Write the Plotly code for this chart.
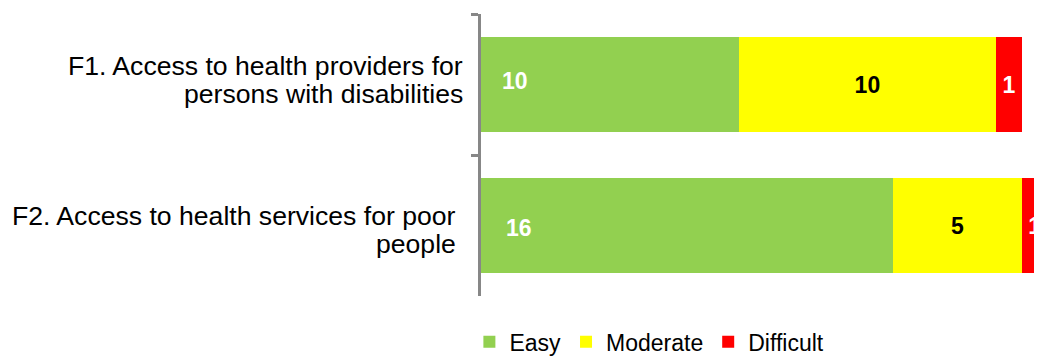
import plotly.graph_objects as go

categories = ["F1", "F2"]
category_lines = [
    ["F1. Access to health providers for", "persons with disabilities"],
    ["F2. Access to health services for poor", "people"],
]
easy = [10, 16]
moderate = [10, 5]
difficult = [1, 1]

series_names = ["Easy", "Moderate", "Difficult"]
colors = ["#92D050", "#FFFF00", "#FF0000"]
label_colors = ["white", "black", "white"]

# page body adds an 8px offset; figure sized to the visible window area
W, H = 1034, 353
ML, MR, MT, MB = 473, 0, 6, 65
px_per_unit = 25.76
xmax = (W - ML - MR) / px_per_unit

font_family = "Arial, Liberation Sans, sans-serif"

fig = go.Figure()
for name, vals, col, lc in zip(series_names, [easy, moderate, difficult], colors, label_colors):
    show_text = name != "Easy"
    fig.add_trace(go.Bar(
        y=categories, x=vals, name=name, orientation="h",
        marker=dict(color=col, line=dict(width=0)),
        text=[str(v) for v in vals] if show_text else None,
        textposition="inside" if show_text else "none",
        insidetextanchor="middle",
        textangle=0,
        textfont=dict(family=font_family, size=23, color=lc, weight="bold"),
        hoverinfo="x+name",
    ))

annotations = []
# Easy labels placed near the start of the bar
easy_xshift = [19, 23]
easy_yshift = [4, -2]
for cat, v, xs, ys in zip(categories, easy, easy_xshift, easy_yshift):
    annotations.append(dict(
        x=0, y=cat, xref="x", yref="y", text=f"<b>{v}</b>", showarrow=False,
        xanchor="left", xshift=xs, yshift=ys, yanchor="middle",
        font=dict(family=font_family, size=23, color="white"),
    ))
# Category labels (two lines each, tighter line spacing)
label_xshift = [-16, -23]
line_yshift = [[19, -9], [9.5, -18.5]]
for cat, lines, xs, yss in zip(categories, category_lines, label_xshift, line_yshift):
    for line, ys in zip(lines, yss):
        annotations.append(dict(
            x=0, y=cat, xref="paper", yref="y", text=line, showarrow=False,
            xanchor="right", xshift=xs, yshift=ys, yanchor="middle", align="right",
            font=dict(family=font_family, size=26.6, color="black"),
        ))

fig.update_layout(
    barmode="stack",
    bargap=0.33,
    width=W, height=H,
    margin=dict(l=ML, r=MR, t=MT, b=MB, pad=0, autoexpand=False),
    plot_bgcolor="white", paper_bgcolor="white",
    font=dict(family=font_family, color="black"),
    showlegend=True,
    legend=dict(
        orientation="h", x=-0.0207, xanchor="left", y=-0.0864, yanchor="top",
        font=dict(family=font_family, size=23, color="black"),
        traceorder="normal", itemwidth=30,
        bgcolor="rgba(0,0,0,0)",
    ),
    annotations=annotations,
    xaxis=dict(range=[0, xmax], visible=False, fixedrange=True),
    yaxis=dict(
        type="category", autorange="reversed",
        showline=True, linecolor="#878787", linewidth=3,
        ticks="outside", tickson="boundaries", ticklen=7, tickwidth=3, tickcolor="#878787",
        showticklabels=False, showgrid=False, zeroline=False,
    ),
)

fig.write_html("out.html")
